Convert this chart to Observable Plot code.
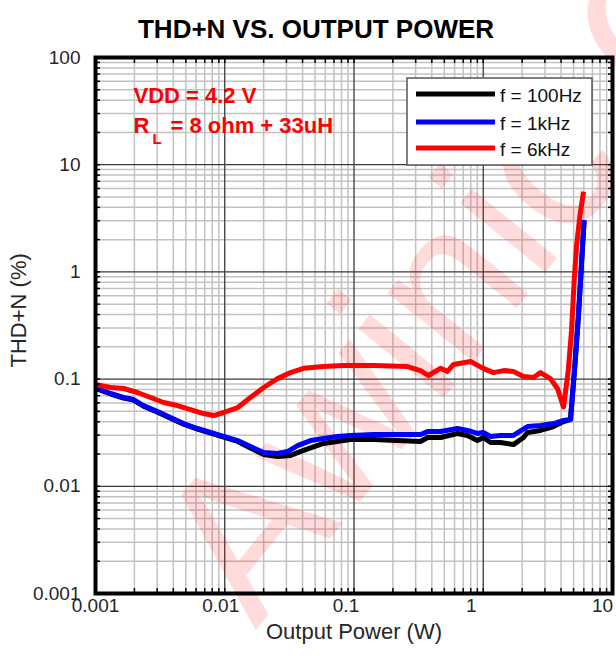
<!DOCTYPE html>
<html><head><meta charset="utf-8">
<script src="https://cdn.jsdelivr.net/npm/d3@7"></script>
<script src="https://cdn.jsdelivr.net/npm/@observablehq/plot@0.6"></script>
<style>
body{margin:0;background:#fff;}
#wrap{position:relative;width:616px;height:656px;overflow:hidden;}
#legend{position:absolute;left:406px;top:77px;}
</style></head><body><div id="wrap"></div>
<script>
const title = "THD+N VS. OUTPUT POWER";
const xLabel = "Output Power (W)";
const yLabel = "THD+N (%)";
const xTicks = [0.001, 0.01, 0.1, 1, 10];
const xTickLabels = ["0.001", "0.01", "0.1", "1", "10"];
const yTicks = [0.001, 0.01, 0.1, 1, 10, 100];
const yTickLabels = ["0.001", "0.01", "0.1", "1", "10", "100"];
const seriesNames = ["f = 100Hz", "f = 1kHz", "f = 6kHz"];
const seriesColors = ["#000000", "#0000ff", "#ff0000"];
const notes = ["VDD = 4.2 V", "R", "L", "= 8 ohm + 33uH"];
const watermark = "Awinic Confidential";

// f = 100Hz
const p100 = [0.001, 0.00131, 0.00165, 0.00197, 0.00235, 0.00302, 0.0038, 0.0048, 0.00615, 0.00776, 0.0098, 0.0126, 0.0158, 0.02, 0.0256, 0.0323, 0.0407, 0.0581, 0.094, 0.142, 0.327, 0.371, 0.467, 0.632, 0.755, 0.902, 1.0, 1.14, 1.36, 1.71, 2.05, 2.2, 2.77, 3.5, 4.18, 4.73, 5.12, 5.46, 5.76, 6.03];
const thd100 = [0.082, 0.0726, 0.0666, 0.0638, 0.056, 0.0492, 0.0432, 0.038, 0.0341, 0.0313, 0.0288, 0.0262, 0.0228, 0.0198, 0.019, 0.0194, 0.0216, 0.0251, 0.0273, 0.0273, 0.0262, 0.0285, 0.0285, 0.0311, 0.0298, 0.0267, 0.0285, 0.0256, 0.0256, 0.0245, 0.0285, 0.0318, 0.0332, 0.0361, 0.0402, 0.042, 0.135, 0.40, 1.2, 3.0];
// f = 1kHz
const p1k = [0.001, 0.00131, 0.00165, 0.00197, 0.00235, 0.00302, 0.0038, 0.0048, 0.00615, 0.00776, 0.0098, 0.0126, 0.0158, 0.02, 0.0256, 0.0306, 0.0366, 0.0461, 0.0581, 0.0745, 0.094, 0.142, 0.327, 0.371, 0.467, 0.632, 0.755, 0.902, 1.0, 1.14, 1.36, 1.71, 2.2, 2.77, 3.5, 4.18, 4.73, 5.12, 5.46, 5.76, 6.03];
const thd1k = [0.083, 0.0734, 0.0674, 0.0645, 0.0567, 0.0499, 0.0438, 0.0385, 0.0346, 0.0318, 0.0292, 0.0267, 0.0235, 0.0207, 0.0202, 0.0211, 0.024, 0.0267, 0.0279, 0.0292, 0.0298, 0.0304, 0.0304, 0.0324, 0.0324, 0.0346, 0.0332, 0.0311, 0.0318, 0.0292, 0.0298, 0.0298, 0.0361, 0.0369, 0.0385, 0.0411, 0.042, 0.137, 0.409, 1.22, 3.05];
// f = 6kHz
const p6k = [0.001, 0.00131, 0.00165, 0.00211, 0.00267, 0.00336, 0.00431, 0.00543, 0.00685, 0.0082, 0.0098, 0.0126, 0.0158, 0.02, 0.0256, 0.0323, 0.0407, 0.058, 0.083, 0.142, 0.259, 0.327, 0.377, 0.467, 0.529, 0.589, 0.797, 1.0, 1.2, 1.44, 1.71, 2.05, 2.45, 2.77, 3.31, 3.75, 4.18, 4.54, 4.82, 5.06, 5.27, 5.61, 5.97];
const thd6k = [0.089, 0.0835, 0.0817, 0.075, 0.0673, 0.0605, 0.0567, 0.052, 0.0477, 0.0457, 0.0488, 0.0543, 0.0673, 0.0835, 0.101, 0.115, 0.126, 0.131, 0.134, 0.134, 0.131, 0.120, 0.108, 0.126, 0.118, 0.137, 0.146, 0.126, 0.115, 0.120, 0.118, 0.106, 0.1035, 0.115, 0.101, 0.0817, 0.055, 0.118, 0.284, 0.85, 1.76, 3.43, 5.6];

const powers = [p100, p1k, p6k];
const thds = [thd100, thd1k, thd6k];
const rows = seriesNames.flatMap((name, i) => powers[i].map((p, j) => ({series: name, p, thd: thds[i][j]})));

const minorX = d3.range(-3, 1).flatMap(e => d3.range(2, 10).map(k => k * 10 ** e));
const minorY = d3.range(-3, 2).flatMap(e => d3.range(2, 10).map(k => k * 10 ** e));
const allX = xTicks.concat(minorX);
const allY = yTicks.concat(minorY);

const FONT = "Liberation Sans, Arial, Helvetica, sans-serif";
const gridMinor = "#c2c2c2";
const gridMajor = "#3a3a3a";
const textCol = "#262626";
const xLabelShift = [0, -4, -8, -12, -10];

const plot = Plot.plot({
  width: 616,
  height: 656,
  marginTop: 57,
  marginRight: 4,
  marginBottom: 63,
  marginLeft: 95,
  style: {fontFamily: FONT, background: "#fff"},
  x: {type: "log", domain: [0.001, 10], axis: null},
  y: {type: "log", domain: [0.001, 100], axis: null},
  color: {domain: seriesNames, range: seriesColors},
  marks: [
    Plot.ruleX(minorX, {stroke: gridMinor, strokeWidth: 1.5}),
    Plot.ruleY(minorY, {stroke: gridMinor, strokeWidth: 1.5}),
    Plot.ruleX(xTicks, {stroke: gridMajor, strokeWidth: 1.3}),
    Plot.ruleY(yTicks, {stroke: gridMajor, strokeWidth: 1.3}),
    Plot.text([watermark], {frameAnchor: "bottom-left", dx: 160, dy: 37, rotate: -51, fontSize: 208,
      fill: "#ff0000", fillOpacity: 0.14, textAnchor: "start", lineAnchor: "bottom", fontFamily: FONT}),
    Plot.line(rows, {x: "p", y: "thd", z: "series", stroke: "series", strokeWidth: 5,
      strokeLinejoin: "round", strokeLinecap: "butt"}),
    Plot.axisX({ticks: allX, anchor: "bottom", tickSize: -5, fill: "none", label: null, stroke: "#000", strokeWidth: 1.5}),
    Plot.axisX({ticks: allX, anchor: "top", tickSize: -5, fill: "none", label: null, stroke: "#000", strokeWidth: 1.5}),
    Plot.axisY({ticks: allY, anchor: "left", tickSize: -5, fill: "none", label: null, stroke: "#000", strokeWidth: 1.5}),
    Plot.axisY({ticks: allY, anchor: "right", tickSize: -5, fill: "none", label: null, stroke: "#000", strokeWidth: 1.5}),
    Plot.frame({stroke: "#000", strokeWidth: 4}),
    ...xTicks.map((t, i) => Plot.text([t], {x: d => d, text: () => xTickLabels[i], frameAnchor: "bottom",
      dy: 18, dx: xLabelShift[i], fontSize: 19, fill: textCol})),
    Plot.text(yTicks, {y: d => d, text: (d, i) => yTickLabels[i], frameAnchor: "left", dx: -15,
      textAnchor: "end", fontSize: 19, fill: textCol}),
    Plot.text([xLabel], {frameAnchor: "bottom", dy: 45, fontSize: 22, fill: textCol}),
    Plot.text([yLabel], {frameAnchor: "left", dx: -77, dy: 42, rotate: -90, fontSize: 22, fill: textCol}),
    Plot.text([title], {frameAnchor: "top", dx: -38, dy: -38, fontSize: 26, fontWeight: "bold", fill: "#000"}),
    Plot.text([notes[0]], {frameAnchor: "top-left", dx: 38, dy: 45, textAnchor: "start", lineAnchor: "bottom",
      fontSize: 22, fontWeight: "bold", fill: "#ff0000"}),
    Plot.text([notes[1]], {frameAnchor: "top-left", dx: 38, dy: 75, textAnchor: "start", lineAnchor: "bottom",
      fontSize: 22, fontWeight: "bold", fill: "#ff0000"}),
    Plot.text([notes[2]], {frameAnchor: "top-left", dx: 57, dy: 86, textAnchor: "start", lineAnchor: "bottom",
      fontSize: 15, fontWeight: "bold", fill: "#ff0000"}),
    Plot.text([notes[3]], {frameAnchor: "top-left", dx: 75, dy: 75, textAnchor: "start", lineAnchor: "bottom",
      fontSize: 22, fontWeight: "bold", fill: "#ff0000"})
  ]
});

const wrap = document.getElementById("wrap");
wrap.appendChild(plot);

// legend overlay
const leg = d3.select(wrap).append("svg").attr("id", "legend")
  .attr("width", 188).attr("height", 91);
leg.append("rect").attr("x", 1).attr("y", 1).attr("width", 185).attr("height", 87)
  .attr("fill", "#fff").attr("stroke", "#555").attr("stroke-width", 1.5);
const ly = [17, 45, 71];
seriesNames.forEach((name, i) => {
  leg.append("line").attr("x1", 10).attr("x2", 89).attr("y1", ly[i]).attr("y2", ly[i])
    .attr("stroke", seriesColors[i]).attr("stroke-width", 5);
  leg.append("text").attr("x", 94).attr("y", ly[i] + 1).attr("dominant-baseline", "central")
    .attr("font-family", FONT).attr("font-size", 19).attr("fill", "#111").text(name);
});
</script></body></html>
